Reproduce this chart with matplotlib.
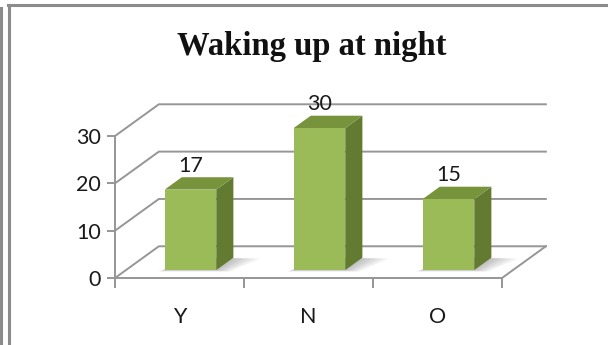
import numpy as np
import matplotlib
matplotlib.use("Agg")
import matplotlib.pyplot as plt
from matplotlib.patches import Polygon
from matplotlib.lines import Line2D

plt.rcParams['font.family'] = ['Lato', 'DejaVu Sans']

categories = ["Y", "N", "O"]
values = [17, 30, 15]
yticks = [0, 10, 20, 30]
title = "Waking up at night"

# oblique 3d look: depth vector in data units, bar slab depth range
DX, DY = 0.34, 6.7
D0, D1 = 0.25, 0.64
BAR_W = 0.40

grid_col = "#969696"
front_col = "#9BBB59"
side_col = "#627B31"
top_col = "#77933C"
txt_col = "#1a1a1a"

fig = plt.figure(figsize=(6.08, 3.45), dpi=100)
W, H = 608, 345
ax = fig.add_axes([115 / W, (H - 278) / H, (502 - 115) / W, (278 - 136) / H])
ax.set_xlim(-0.5, len(categories) - 0.5)
ax.set_ylim(0, 30)
ax.patch.set_alpha(0)


def proj(x, y, d):
    return (x + d * DX, y + d * DY)


x0, x1 = -0.5, len(categories) - 0.5
# back wall, side wall and floor lines
for v in yticks:
    xs = [x0, x0 + DX, x1 + DX]
    ys = [v, v + DY, v + DY]
    ax.plot(xs, ys, color=grid_col, lw=1.4, clip_on=False, zorder=1)
ax.plot([x1, x1 + DX], [0, DY], color=grid_col, lw=1.4, clip_on=False, zorder=1)

# soft floor shadows
for i, v in enumerate(values):
    for k in range(5):
        g = 0.02 + 0.025 * k
        pts = [proj(i - BAR_W / 2 - g * 0.3, 0, D0 - g * 0.4),
               proj(i + BAR_W / 2 + g, 0, D0 - g * 0.4),
               proj(i + BAR_W / 2 + g * 1.8, 0, D1 - g * 0.2),
               proj(i - BAR_W / 2 + g, 0, D1 - g * 0.2)]
        ax.add_patch(Polygon(pts, closed=True, fc="#000000", ec="none",
                             alpha=0.05, zorder=2, clip_on=False))

# bars
for i, v in enumerate(values):
    l, r = i - BAR_W / 2, i + BAR_W / 2
    side = [proj(r, 0, D0), proj(r, 0, D1), proj(r, v, D1), proj(r, v, D0)]
    top = [proj(l, v, D0), proj(r, v, D0), proj(r, v, D1), proj(l, v, D1)]
    front = [proj(l, 0, D0), proj(r, 0, D0), proj(r, v, D0), proj(l, v, D0)]
    ax.add_patch(Polygon(side, closed=True, fc=side_col, ec="none", zorder=3, clip_on=False))
    ax.add_patch(Polygon(top, closed=True, fc=top_col, ec="none", zorder=3, clip_on=False))
    ax.add_patch(Polygon(front, closed=True, fc=front_col, ec="none", zorder=3, clip_on=False))
    cx, cy = proj(i, v, D0)
    ax.annotate(str(v), (cx, v + D1 * DY), xytext=(0, 4), textcoords="offset points",
                ha="center", va="baseline", fontsize=15.5, color=txt_col,
                annotation_clip=False)

for s in ["top", "right"]:
    ax.spines[s].set_visible(False)
for s in ["left", "bottom"]:
    ax.spines[s].set_color(grid_col)
    ax.spines[s].set_linewidth(1.4)
    ax.spines[s].set_zorder(1)

ax.set_yticks(yticks)
ax.tick_params(axis="y", direction="out", length=6, width=1.4, color=grid_col,
               pad=4, labelsize=15.5, labelcolor=txt_col)
ax.set_xticks(range(len(categories)))
ax.set_xticklabels(categories)
ax.set_xticks(np.arange(-0.5, len(categories)), minor=True)
ax.tick_params(axis="x", which="major", length=0, pad=21, labelsize=15.5, labelcolor=txt_col)
ax.tick_params(axis="x", which="minor", direction="out", length=7, width=1.4, color=grid_col)

fig.text(312 / W, 1 - 46 / H, title, ha="center", va="center", fontsize=23.5,
         fontweight="bold", family=["Liberation Serif", "DejaVu Serif"], color="#111111")

# chart frame
frame_col = "#8C8C8C"
fig.add_artist(Line2D([8 / W, 1], [1 - 5 / H, 1 - 5 / H], color=frame_col, lw=2.2))
fig.add_artist(Line2D([9 / W, 9 / W], [0, 1 - 5 / H], color=frame_col, lw=2.2))
fig.add_artist(Line2D([1 / W, 1 / W], [0, 1 - 8 / H], color=frame_col, lw=2.2))

fig.savefig("out.png", dpi=100)
